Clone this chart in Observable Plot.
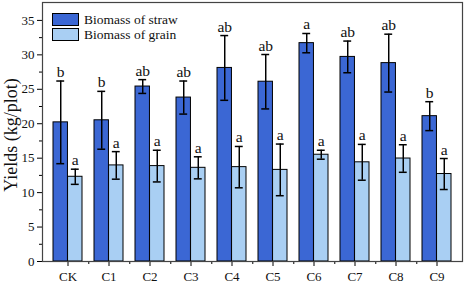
<!DOCTYPE html>
<html><head><meta charset="utf-8">
<script src="https://cdn.jsdelivr.net/npm/d3@7"></script>
<script src="https://cdn.jsdelivr.net/npm/@observablehq/plot@0.6"></script>
<style>
body{margin:0;background:#fff;}
#wrap{position:relative;width:464px;height:284px;font-family:"Liberation Serif","Times New Roman",serif;}
#ylab{position:absolute;left:11px;top:135px;transform:translate(-50%,-50%) rotate(-90deg);font-size:18px;line-height:1;white-space:nowrap;color:#111;}
#legend{position:absolute;left:52px;top:12px;font-size:13.5px;color:#111;}
#legend .row{display:flex;align-items:center;height:15px;}
#legend .sw{width:25px;height:11px;border:1px solid #000;margin-right:5px;}
</style></head>
<body><div id="wrap"><div id="chart"></div><div id="ylab">Yields (kg/plot)</div><div id="legend"></div></div>
<script>
const categories = ["CK","C1","C2","C3","C4","C5","C6","C7","C8","C9"];
const strawMean = [20.2, 20.5, 25.4, 23.8, 28.1, 26.1, 31.7, 29.7, 28.8, 21.1];
const strawErr  = [6.0, 4.2, 1.0, 2.4, 4.7, 3.95, 1.4, 2.3, 4.2, 2.1];
const grainMean = [12.3, 13.95, 13.85, 13.6, 13.7, 13.3, 15.5, 14.4, 14.95, 12.7];
const grainErr  = [1.1, 2.0, 2.3, 1.6, 3.0, 3.75, 0.65, 2.6, 2.0, 2.25];
const strawLetters = ["b","b","ab","ab","ab","ab","a","ab","ab","b"];
const grainLetters = ["a","a","a","a","a","a","a","a","a","a"];
const seriesNames = ["Biomass of straw","Biomass of grain"];
const yTicks = [0,5,10,15,20,25,30,35];
const yMinor = [2.5,7.5,12.5,17.5,22.5,27.5,32.5];
const colors = ["#3b67d4","#a9cff3"];

const data = categories.map((c,i)=>({cat:c, straw:strawMean[i], se:strawErr[i], sl:strawLetters[i],
  grain:grainMean[i], ge:grainErr[i], gl:grainLetters[i]}));

const W = 464, H = 284, mL = 42, mR = 2, mT = 2, mB = 23;
const pIn = 0.3, pOut = 0.2;
const step = (W - mL - mR) / (categories.length - pIn + 2*pOut);
const bw = step * (1 - pIn);
const half = bw / 2, q = bw / 4, cap = 4;

const chart = Plot.plot({
  width: W, height: H, marginLeft: mL, marginRight: mR, marginTop: mT, marginBottom: mB,
  style: {fontFamily:"Liberation Serif, Times New Roman, serif", fontSize:"13px", background:"#fff", color:"#111"},
  x: {domain: categories, paddingInner: pIn, paddingOuter: pOut, label: null},
  y: {domain: [0, 37.6], label: null},
  marks: [
    Plot.barY(data, {x:"cat", y:"straw", fill: colors[0], stroke:"#000", strokeWidth:1, insetRight: half}),
    Plot.barY(data, {x:"cat", y:"grain", fill: colors[1], stroke:"#000", strokeWidth:1, insetLeft: half}),
    Plot.ruleX(data, {x:"cat", y1: d=>d.straw-d.se, y2: d=>d.straw+d.se, dx: -q, stroke:"#000", strokeWidth:1.5}),
    Plot.ruleX(data, {x:"cat", y1: d=>d.grain-d.ge, y2: d=>d.grain+d.ge, dx: q, stroke:"#000", strokeWidth:1.5}),
    Plot.tickY(data, {x:"cat", y: d=>d.straw+d.se, insetLeft: q-cap, insetRight: bw-q-cap, stroke:"#000", strokeWidth:1.5}),
    Plot.tickY(data, {x:"cat", y: d=>d.straw-d.se, insetLeft: q-cap, insetRight: bw-q-cap, stroke:"#000", strokeWidth:1.5}),
    Plot.tickY(data, {x:"cat", y: d=>d.grain+d.ge, insetLeft: 3*q-cap, insetRight: q-cap, stroke:"#000", strokeWidth:1.5}),
    Plot.tickY(data, {x:"cat", y: d=>d.grain-d.ge, insetLeft: 3*q-cap, insetRight: q-cap, stroke:"#000", strokeWidth:1.5}),
    Plot.text(data, {x:"cat", y: d=>d.straw+d.se, text:"sl", dx:-q, dy:-4, lineAnchor:"bottom", fontSize:15.5, fill:"#111"}),
    Plot.text(data, {x:"cat", y: d=>d.grain+d.ge, text:"gl", dx:q, dy:-4, lineAnchor:"bottom", fontSize:15.5, fill:"#111"}),
    Plot.axisY(yTicks, {tickSize:5, tickPadding:3, label:null, fontSize:13, stroke:"#000"}),
    Plot.axisY(yMinor, {tickSize:3, text:null, label:null, stroke:"#000"}),
    Plot.axisX(categories, {tickSize:5, tickPadding:5, label:null, fontSize:13, stroke:"#000"}),
    Plot.axisX(categories.slice(0,-1), {tickSize:3, text:null, label:null, dx: step/2, stroke:"#000"}),
    Plot.frame({stroke:"#444", strokeWidth:1.2})
  ]
});
document.getElementById("chart").appendChild(chart);

const lg = document.getElementById("legend");
seriesNames.forEach((n,i)=>{
  const r = document.createElement("div"); r.className="row";
  const s = document.createElement("div"); s.className="sw"; s.style.background=colors[i];
  const t = document.createElement("span"); t.textContent = n;
  r.appendChild(s); r.appendChild(t); lg.appendChild(r);
});
</script></body></html>
